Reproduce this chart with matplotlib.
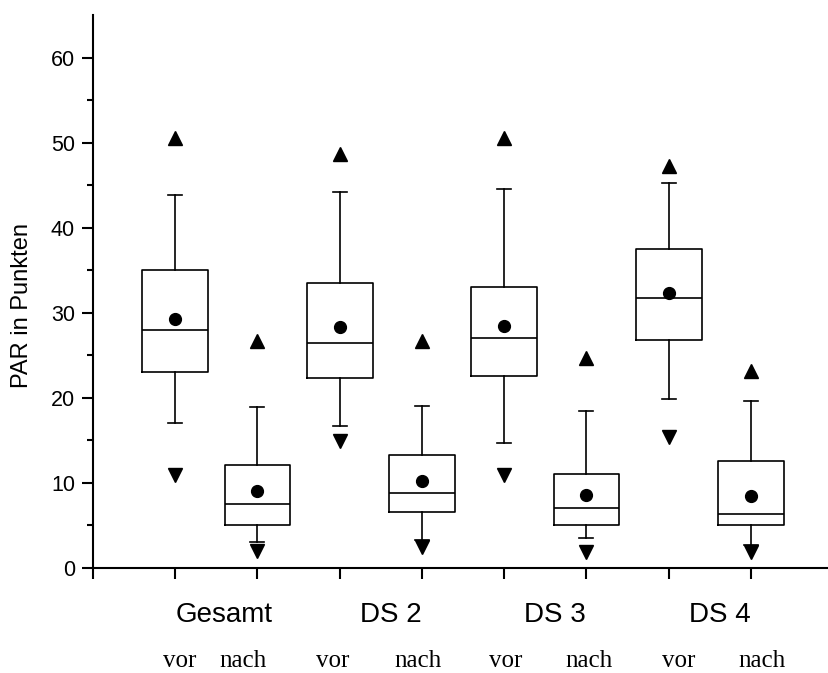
import numpy as np
import matplotlib.pyplot as plt

plt.rcParams['font.family'] = ['Liberation Sans', 'DejaVu Sans']

gruppen = ["Gesamt", "DS 2", "DS 3", "DS 4"]
zeitpunkte = ["vor", "nach"]

# je Box: vor, nach, vor, nach ...
q1 = [23.0, 5.05, 22.3, 6.55, 22.6, 5.05, 26.8, 5.05]
median = [28.0, 7.55, 26.5, 8.8, 27.0, 7.05, 31.75, 6.3]
q3 = [35.0, 12.05, 33.5, 13.3, 33.0, 11.05, 37.45, 12.6]
whisker_lo = [17.0, 3.1, 16.7, 3.3, 14.7, 3.55, 19.9, 2.7]
whisker_hi = [43.85, 18.9, 44.2, 19.0, 44.6, 18.4, 45.3, 19.65]
mittelwert = [29.3, 9.05, 28.3, 10.2, 28.5, 8.6, 32.3, 8.5]
maximum = [50.6, 26.7, 48.7, 26.7, 50.6, 24.7, 47.2, 23.2]
minimum = [10.9, 2.0, 14.9, 2.5, 10.9, 1.9, 15.4, 1.9]

positionen = np.arange(1, len(median) + 1)

# Lage der Beschriftungen unter der Achse (in x-Daten)
x_gruppe = [1.6, 3.62, 5.62, 7.62]
x_zeit = [1.06, 1.82, 2.92, 3.95, 5.02, 6.03, 7.12, 8.13]

stats = []
for i in range(len(median)):
    stats.append({"q1": q1[i], "med": median[i], "q3": q3[i],
                  "whislo": whisker_lo[i], "whishi": whisker_hi[i],
                  "mean": mittelwert[i], "fliers": []})

fig = plt.figure(figsize=(8.29, 6.73), dpi=100)
ax = fig.add_axes([93 / 829, 105 / 673, 736 / 829, 553 / 673])

lw = 1.2
ax.bxp(stats, positions=positionen, widths=0.8, showmeans=True,
       capwidths=0.17,
       boxprops=dict(color="black", linewidth=lw),
       medianprops=dict(color="black", linewidth=lw),
       whiskerprops=dict(color="black", linewidth=lw),
       capprops=dict(color="black", linewidth=lw),
       meanprops=dict(marker="o", markerfacecolor="black",
                      markeredgecolor="black", markersize=8.5))

ax.plot(positionen, maximum, linestyle="none", marker="^", color="black", markersize=10)
ax.plot(positionen, minimum, linestyle="none", marker="v", color="black", markersize=10)

ax.set_xlim(0, 8.95)
ax.set_ylim(0, 65)
ax.set_yticks(np.arange(0, 61, 10))
ax.set_yticks(np.arange(5, 61, 10), minor=True)
ax.set_xticks(np.arange(0, 9))
ax.set_xticklabels([])

for side in ["top", "right"]:
    ax.spines[side].set_visible(False)
for side in ["left", "bottom"]:
    ax.spines[side].set_linewidth(1.5)

ax.tick_params(axis="both", which="major", direction="out", length=8, width=1.5,
               labelsize=15.5, pad=5)
ax.tick_params(axis="y", which="minor", direction="out", length=4, width=1.5)
ax.set_ylabel("PAR in Punkten", fontsize=17)
ax.yaxis.set_label_coords(-0.0815, 0.474)

trans = ax.get_xaxis_transform()
for k, name in enumerate(gruppen):
    ax.text(x_gruppe[k], -0.0976, name, transform=trans, ha="center", va="baseline", fontsize=20)
for i in range(len(x_zeit)):
    ax.text(x_zeit[i], -0.179, zeitpunkte[i % 2], transform=trans, ha="center", va="baseline",
            fontsize=18, family=["Liberation Serif", "DejaVu Serif"])

fig.savefig("out.png", dpi=100)
